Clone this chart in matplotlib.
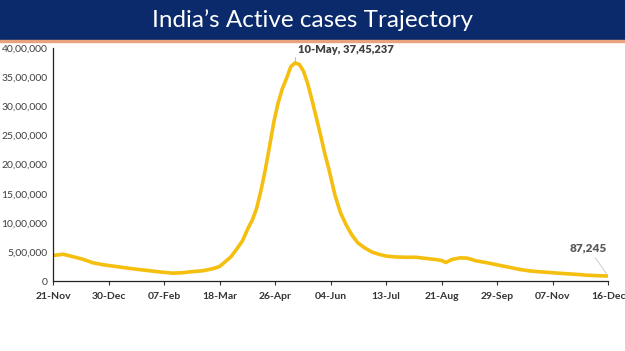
import numpy as np
import pandas as pd
import matplotlib
matplotlib.use("Agg")
import matplotlib.pyplot as plt
from matplotlib.patches import Rectangle

plt.rcParams['font.family'] = ['Lato', 'DejaVu Sans']

# active cases (approx.)
fechas = ["2020-11-21", "2020-11-25", "2020-11-28", "2020-12-05", "2020-12-12",
          "2020-12-19", "2020-12-26", "2021-01-02", "2021-01-09", "2021-01-16",
          "2021-01-23", "2021-01-30", "2021-02-06", "2021-02-13", "2021-02-20",
          "2021-02-27", "2021-03-06", "2021-03-13", "2021-03-18", "2021-03-22",
          "2021-03-26", "2021-03-30", "2021-04-03", "2021-04-07", "2021-04-10",
          "2021-04-13", "2021-04-16", "2021-04-19", "2021-04-22", "2021-04-25",
          "2021-04-28", "2021-05-01", "2021-05-04", "2021-05-07", "2021-05-10",
          "2021-05-13", "2021-05-16", "2021-05-19", "2021-05-22", "2021-05-25",
          "2021-05-28", "2021-05-31", "2021-06-03", "2021-06-07", "2021-06-11",
          "2021-06-15", "2021-06-19", "2021-06-23", "2021-06-28", "2021-07-03",
          "2021-07-08", "2021-07-13", "2021-07-20", "2021-07-27", "2021-08-03",
          "2021-08-10", "2021-08-17", "2021-08-21", "2021-08-24", "2021-08-28",
          "2021-09-03", "2021-09-08", "2021-09-14", "2021-09-21", "2021-09-29",
          "2021-10-07", "2021-10-15", "2021-10-22", "2021-10-29", "2021-11-07",
          "2021-11-15", "2021-11-23", "2021-12-01", "2021-12-08", "2021-12-16"]
activos = [440000, 452000, 462000, 420000, 375000,
           315000, 282000, 258000, 235000, 212000,
           192000, 172000, 153000, 138000, 145000,
           164000, 178000, 212000, 252000, 335000,
           420000, 550000, 690000, 910000, 1050000,
           1250000, 1550000, 1900000, 2300000, 2720000,
           3050000, 3300000, 3480000, 3680000, 3745237,
           3720000, 3600000, 3380000, 3100000, 2800000,
           2500000, 2180000, 1900000, 1480000, 1170000,
           960000, 790000, 660000, 570000, 500000,
           460000, 430000, 415000, 410000, 410000,
           390000, 370000, 355000, 320000, 370000,
           400000, 395000, 350000, 320000, 280000,
           240000, 200000, 175000, 160000, 145000,
           130000, 118000, 102000, 95000, 87245]

ticks_y = np.arange(0, 4000001, 500000)


def formato_indio(v):
    s = str(int(v))
    if len(s) <= 3:
        return s
    ult = s[-3:]
    resto = s[:-3]
    grupos = []
    while len(resto) > 2:
        grupos.insert(0, resto[-2:])
        resto = resto[:-2]
    if resto:
        grupos.insert(0, resto)
    return ",".join(grupos) + "," + ult


x = pd.to_datetime(fechas)
inicio = pd.Timestamp("2020-11-21")
fin = pd.Timestamp("2021-12-16")
ticks_x = pd.date_range(inicio, fin, freq="39D")

fig = plt.figure(figsize=(6.25, 3.51), dpi=100)

# banner del titulo
fig.patches.append(Rectangle((0, 0.886), 1, 0.114, transform=fig.transFigure,
                             color='#0a2a6b', zorder=0))
fig.patches.append(Rectangle((0, 0.880), 1, 0.006, transform=fig.transFigure,
                             color='#e8a27e', zorder=0))
fig.text(0.5, 0.943, "India\u2019s Active cases Trajectory", color='white',
         fontsize=17.5, ha='center', va='center')

ax = fig.add_axes([0.085, 0.199, 0.888, 0.664])
ax.plot(x, activos, color='#f5bf0f', lw=2.6, solid_capstyle='round',
        solid_joinstyle='round')

ax.set_xlim(inicio, fin)
ax.set_ylim(0, 4000000)
ax.set_yticks(ticks_y)
ax.set_yticklabels([formato_indio(v) for v in ticks_y], color='#404040', fontsize=7.5)
ax.set_xticks(ticks_x)
ax.set_xticklabels([d.strftime("%d-%b") for d in ticks_x], fontweight='bold',
                   color='#333333', fontsize=7.5)
ax.tick_params(axis='y', length=0, pad=4)
ax.tick_params(axis='x', length=3, direction='out', color='#333333', pad=5)

for lado in ['top', 'right']:
    ax.spines[lado].set_visible(False)
for lado in ['left', 'bottom']:
    ax.spines[lado].set_color('#222222')
    ax.spines[lado].set_linewidth(0.9)

# etiquetas
ax.annotate("10-May, 37,45,237", xy=(pd.Timestamp("2021-05-10"), 3745237),
            xytext=(2, 10), textcoords='offset points', fontsize=8,
            fontweight='heavy', color='#404040', va='center', ha='left',
            arrowprops=dict(arrowstyle='-', color='#bbbbbb', lw=0.7,
                            shrinkA=0, shrinkB=1, relpos=(0, 0.5),
                            connectionstyle="angle,angleA=180,angleB=90,rad=0"))
ax.annotate("87,245", xy=(fin, 87245), xytext=(-14, 16), textcoords='offset points',
            fontsize=8.5, fontweight='heavy', color='#595959', ha='center', va='bottom',
            arrowprops=dict(arrowstyle='-', color='#cccccc', lw=0.7,
                            shrinkA=1, shrinkB=2))

fig.savefig("out.png", dpi=100)
